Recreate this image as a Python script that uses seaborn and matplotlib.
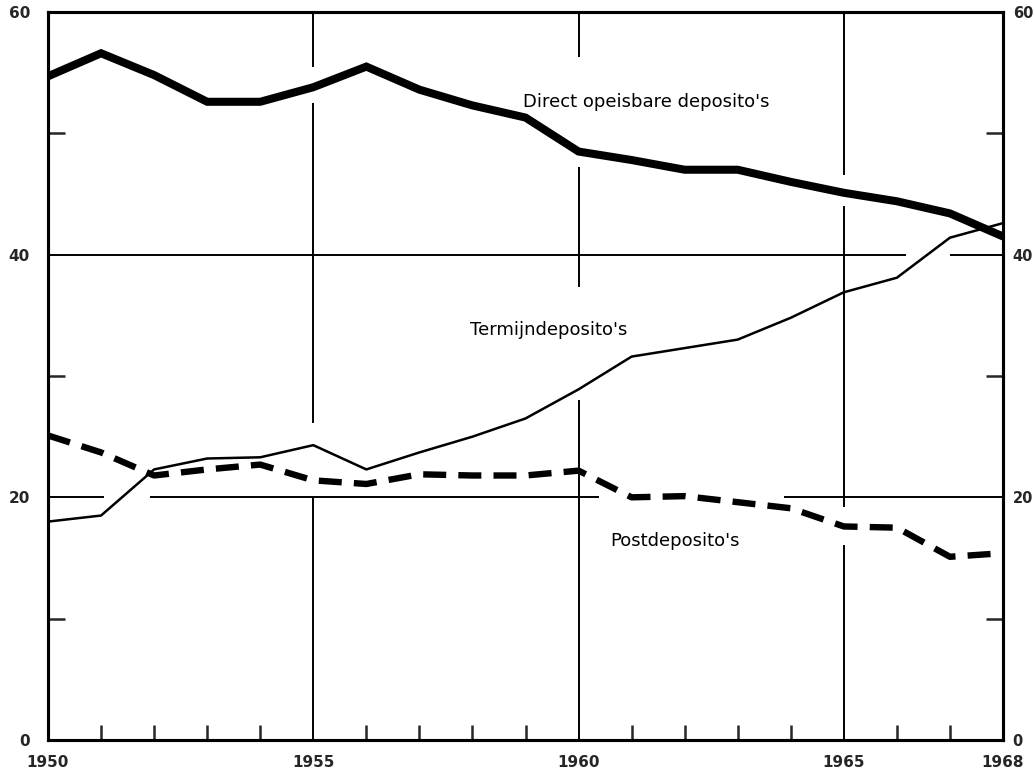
import numpy as np
import pandas as pd
import matplotlib
matplotlib.use("Agg")
import matplotlib.pyplot as plt
from matplotlib.ticker import MultipleLocator, FixedLocator
import seaborn as sns

# data (share of deposits, %)
years = list(range(1950, 1969))
direct = [54.7, 56.6, 54.8, 52.6, 52.6, 53.8, 55.5, 53.6, 52.3, 51.3,
          48.5, 47.8, 47.0, 47.0, 46.0, 45.1, 44.4, 43.4, 41.5]
termijn = [18.0, 18.5, 22.3, 23.2, 23.3, 24.3, 22.3, 23.7, 25.0, 26.5,
           28.9, 31.6, 32.3, 33.0, 34.8, 36.9, 38.1, 41.4, 42.6]
post = [25.1, 23.7, 21.8, 22.3, 22.7, 21.4, 21.1, 21.9, 21.8, 21.8,
        22.2, 20.0, 20.1, 19.6, 19.1, 17.6, 17.5, 15.1, 15.4]

labels = ["Direct opeisbare deposito's", "Termijndeposito's", "Postdeposito's"]
label_pos = [(1958.95, 52.6), (1957.95, 33.8), (1960.6, 16.4)]

x_major = [1950, 1955, 1960, 1965, 1968]
y_major = [0, 20, 40, 60]
y_minor = [10, 30, 50]

df = pd.DataFrame({"jaar": years, "direct": direct, "termijn": termijn, "post": post})

sns.set_style("white")
plt.rcParams["font.family"] = ["DejaVu Sans"]
plt.rcParams["font.weight"] = "bold"

fig = plt.figure(figsize=(10.35, 7.73), dpi=100)
ax = fig.add_axes([48 / 1035, 33 / 773, 955 / 1035, 728 / 773])

# grid lines with the gaps seen in the print
grid_kw = dict(color="black", lw=1.4, zorder=1)
ax.hlines(40, 1950, 1966.17, **grid_kw)
ax.hlines(40, 1967.0, 1968, **grid_kw)
ax.hlines(20, 1950, 1951.06, **grid_kw)
ax.hlines(20, 1951.92, 1960.38, **grid_kw)
ax.hlines(20, 1963.87, 1968, **grid_kw)
ax.vlines(1955, 0, 20, **grid_kw)
ax.vlines(1955, 26.1, 52.5, **grid_kw)
ax.vlines(1955, 55.5, 60, **grid_kw)
ax.vlines(1960, 0, 28.0, **grid_kw)
ax.vlines(1960, 37.3, 47.2, **grid_kw)
ax.vlines(1960, 56.3, 60, **grid_kw)
ax.vlines(1965, 0, 16.1, **grid_kw)
ax.vlines(1965, 19.2, 44.0, **grid_kw)
ax.vlines(1965, 46.6, 60, **grid_kw)

sns.lineplot(data=df, x="jaar", y="direct", ax=ax, color="black", lw=5.8,
             solid_joinstyle="miter", zorder=3)
sns.lineplot(data=df, x="jaar", y="termijn", ax=ax, color="black", lw=1.8, zorder=3)
sns.lineplot(data=df, x="jaar", y="post", ax=ax, color="black", lw=4.6,
             dashes=(3.6, 1.9), zorder=3)

for txt, (lx, ly) in zip(labels, label_pos):
    ax.text(lx, ly, txt, fontsize=13, ha="left", va="center", color="black",
            fontweight="normal")

ax.set_xlim(1950, 1968)
ax.set_ylim(0, 60)
ax.set_xlabel("")
ax.set_ylabel("")

ax.xaxis.set_major_locator(FixedLocator(x_major))
ax.xaxis.set_minor_locator(MultipleLocator(1))
ax.yaxis.set_major_locator(FixedLocator(y_major))
ax.yaxis.set_minor_locator(FixedLocator(y_minor))
ax.tick_params(axis="x", which="major", direction="in", length=0,
               labelsize=11, pad=11)
ax.tick_params(axis="y", which="major", direction="in", length=0,
               labelsize=11, pad=13)
ax.tick_params(axis="x", which="minor", direction="in", length=11, width=1.8,
               bottom=True, top=False)
ax.tick_params(axis="y", which="minor", direction="in", length=12, width=1.8,
               left=True)

# right-hand scale
ax2 = ax.twinx()
ax2.set_ylim(0, 60)
ax2.yaxis.set_major_locator(FixedLocator(y_major))
ax2.yaxis.set_minor_locator(FixedLocator(y_minor))
ax2.tick_params(axis="y", which="major", direction="in", length=0,
                labelsize=10.5, pad=7, right=True)
ax2.tick_params(axis="y", which="minor", direction="in", length=12, width=1.8,
                right=True, left=False)
ax2.grid(False)

for a in (ax, ax2):
    for s in a.spines.values():
        s.set_visible(True)
        s.set_linewidth(2.2)
        s.set_color("black")

fig.savefig("out.png", dpi=100)
